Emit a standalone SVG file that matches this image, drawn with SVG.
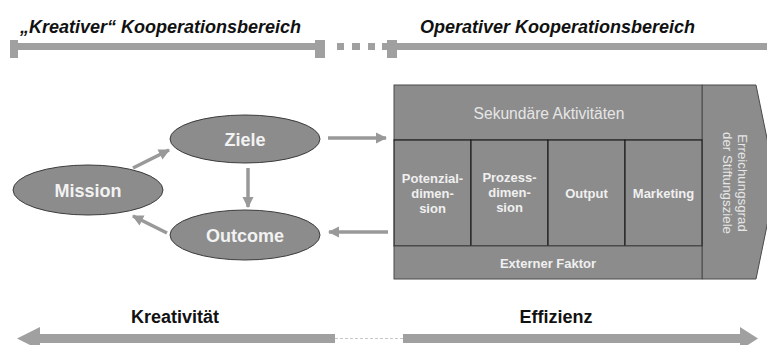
<svg xmlns="http://www.w3.org/2000/svg" width="767" height="345" viewBox="0 0 767 345">
<defs>
<style>
.bar{fill:#a0a0a0}
.title{font-family:"Liberation Sans",Arial,sans-serif;font-size:18px;font-weight:bold;font-style:italic;fill:#111}
.ell{fill:#8c8c8c;stroke:#3c3c3c;stroke-width:1}
.etext{font-family:"Liberation Sans",Arial,sans-serif;font-size:18px;font-weight:bold;fill:#f2f2f2;text-anchor:middle}
.conn{stroke:#999;stroke-width:3.5;fill:none}
.cell{fill:#8c8c8c;stroke:#4a4a4a;stroke-width:1}
.cellb{fill:#8c8c8c;stroke:#1e1e1e;stroke-width:1.2}
.ctext{font-family:"Liberation Sans",Arial,sans-serif;font-size:13px;font-weight:bold;fill:#f0f0f0;text-anchor:middle}
.ltext{font-family:"Liberation Sans",Arial,sans-serif;font-size:15.6px;fill:#e6e6e6;text-anchor:middle}
.vtext{font-family:"Liberation Sans",Arial,sans-serif;font-size:13.3px;fill:#e6e6e6;text-anchor:middle}
.btext{font-family:"Liberation Sans",Arial,sans-serif;font-size:18px;font-weight:bold;fill:#111;text-anchor:middle}
</style>
<marker id="ah" viewBox="0 0 10 10" refX="9" refY="5" markerWidth="3.2" markerHeight="3.2" orient="auto" markerUnits="strokeWidth">
<path d="M0,0 L10,5 L0,10 z" fill="#999"/>
</marker>
</defs>
<rect width="767" height="345" fill="#fff"/>

<g id="top-scale">
<text class="title" x="20" y="33">„Kreativer“ Kooperationsbereich</text>
<text class="title" x="420" y="33">Operativer Kooperationsbereich</text>
<rect class="bar" x="10" y="43" width="305" height="7"/>
<rect class="bar" x="10" y="40" width="8" height="18"/>
<rect class="bar" x="315" y="40" width="10" height="18"/>
<rect class="bar" x="337" y="43" width="7" height="7"/>
<rect class="bar" x="352" y="43" width="8" height="7"/>
<rect class="bar" x="368" y="43" width="7" height="7"/>
<rect class="bar" x="387" y="40" width="10" height="18"/>
<rect class="bar" x="382" y="43" width="385" height="7"/>
</g>

<g id="connectors">
<line class="conn" x1="133" y1="168" x2="169" y2="150" marker-end="url(#ah)"/>
<line class="conn" x1="248" y1="168" x2="248" y2="207" marker-end="url(#ah)"/>
<line class="conn" x1="167" y1="233" x2="133" y2="216" marker-end="url(#ah)"/>
<line class="conn" x1="328" y1="138" x2="386" y2="138" marker-end="url(#ah)"/>
<line class="conn" x1="388" y1="232" x2="329" y2="232" marker-end="url(#ah)"/>
</g>

<g id="mission">
<ellipse class="ell" cx="88" cy="190" rx="75" ry="25"/>
<text class="etext" x="88" y="196.5">Mission</text>
</g>
<g id="ziele">
<ellipse class="ell" cx="245" cy="139" rx="75" ry="24"/>
<text class="etext" x="245" y="146">Ziele</text>
</g>
<g id="outcome">
<ellipse class="ell" cx="245" cy="235" rx="75" ry="25"/>
<text class="etext" x="245" y="241.5">Outcome</text>
</g>

<g id="chevron">
<polygon points="702,85 756,85 776,182 756,279 702,279" fill="#8c8c8c" stroke="#4a4a4a" stroke-width="1"/>
<text class="vtext" transform="translate(737.5,183) rotate(90)" x="0" y="0">Erreichungsgrad</text>
<text class="vtext" transform="translate(722.5,183) rotate(90)" x="0" y="0">der Stiftungsziele</text>
</g>

<g id="sekundaere">
<rect class="cell" x="394" y="85" width="308" height="55"/>
<text class="ltext" x="549" y="118.5">Sekundäre Aktivitäten</text>
</g>
<g id="potenzial">
<rect class="cellb" x="394" y="140" width="77" height="106"/>
<text class="ctext" x="432.5" y="182.5">Potenzial-</text>
<text class="ctext" x="432.5" y="197.5">dimen-</text>
<text class="ctext" x="432.5" y="212.5">sion</text>
</g>
<g id="prozess">
<rect class="cellb" x="471" y="140" width="77" height="106"/>
<text class="ctext" x="509.5" y="181.5">Prozess-</text>
<text class="ctext" x="509.5" y="196.5">dimen-</text>
<text class="ctext" x="509.5" y="211.5">sion</text>
</g>
<g id="output">
<rect class="cellb" x="548" y="140" width="77" height="106"/>
<text class="ctext" x="586.5" y="197.5">Output</text>
</g>
<g id="marketing">
<rect class="cellb" x="625" y="140" width="77" height="106"/>
<text class="ctext" x="663.5" y="197.5">Marketing</text>
</g>
<g id="externer">
<rect class="cell" x="394" y="246" width="308" height="33"/>
<text class="ctext" x="548" y="267.5">Externer Faktor</text>
</g>

<g id="bottom-scale">
<text class="btext" x="175" y="323">Kreativität</text>
<text class="btext" x="556" y="323">Effizienz</text>
<rect class="bar" x="38" y="334" width="297" height="9"/>
<polygon class="bar" points="17,338.5 40,327 40,350"/>
<line x1="335" y1="338.5" x2="403" y2="338.5" stroke="#c8c8c8" stroke-width="1" stroke-dasharray="3,2"/>
<rect class="bar" x="403" y="334" width="339" height="9"/>
<polygon class="bar" points="758,338.5 740,327 740,350"/>
</g>
</svg>
